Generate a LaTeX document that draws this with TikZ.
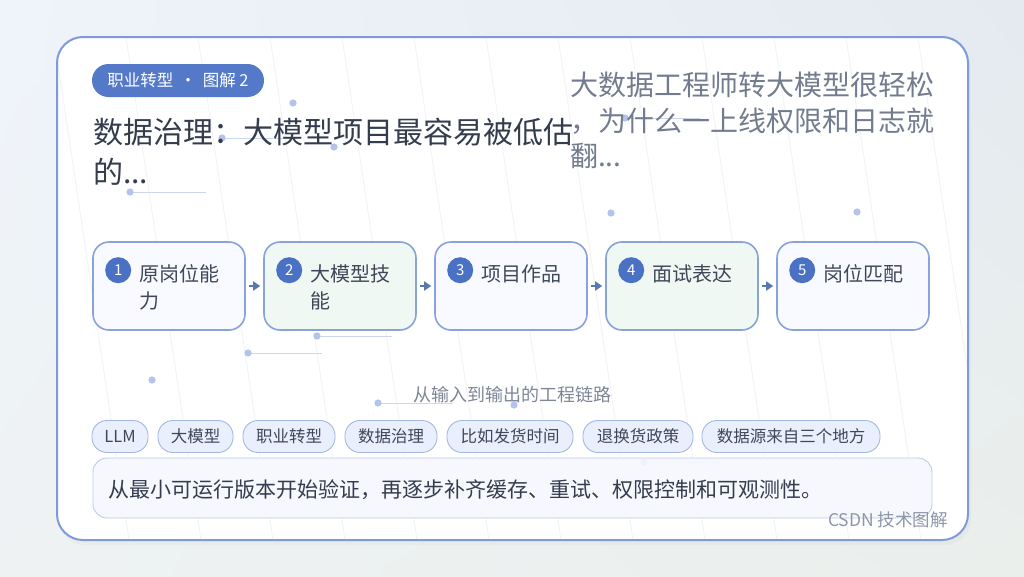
\documentclass[tikz,border=0pt]{standalone}
\usepackage{fontspec}
\setmainfont{Noto Sans CJK SC}
\usetikzlibrary{arrows.meta,calc,shadings}
\definecolor{bgA}{HTML}{EFF4FB}
\definecolor{bgB}{HTML}{E5EAF1}
\definecolor{bgC}{HTML}{EEF2F3}
\definecolor{bgD}{HTML}{EAEFEC}
\definecolor{cardline}{HTML}{7F9AD6}
\definecolor{boxline}{HTML}{88A2DA}
\definecolor{badgeblue}{HTML}{5479C9}
\definecolor{numblue}{HTML}{4A71C3}
\definecolor{boxlight}{HTML}{F9FAFF}
\definecolor{boxgreen}{HTML}{EFF8F3}
\definecolor{tagfill}{HTML}{E9EFFC}
\definecolor{tagline}{HTML}{A5B8E3}
\definecolor{notefill}{HTML}{F6F8FE}
\definecolor{noteline}{HTML}{BCCAEB}
\definecolor{dotcol}{HTML}{B4C3EA}
\definecolor{dotline}{HTML}{CDD7EE}
\definecolor{titlecol}{HTML}{343C4D}
\definecolor{subcol}{HTML}{737C8F}
\definecolor{textcol}{HTML}{3F4758}
\definecolor{capcol}{HTML}{7E8697}
\definecolor{markcol}{HTML}{8E97A9}
\definecolor{arrowcol}{HTML}{5A78B0}
\definecolor{hatch}{HTML}{F0F2F6}
\begin{document}
\begin{tikzpicture}[x=1pt,y=-1pt,
  stepbox/.style={draw=boxline, line width=1.6pt, rounded corners=16pt,
    minimum width=152pt, minimum height=88pt, inner sep=0pt},
  numc/.style={circle, fill=numblue, minimum size=26pt, inner sep=0pt,
    text=white, font=\fontsize{15}{18}\selectfont},
  steptext/.style={anchor=base west, inner sep=0pt, text=textcol,
    font=\fontsize{20}{24}\selectfont},
  tagbox/.style={draw=tagline, line width=0.9pt, fill=tagfill, rounded corners=15pt,
    minimum height=32pt, inner sep=0pt, text=textcol,
    font=\fontsize{16.5}{20}\selectfont},
  flow/.style={draw=arrowcol, line width=2pt, -{Triangle[length=7pt,width=9pt]}},
  dot/.style={fill=dotcol},
  dline/.style={draw=dotline, line width=1pt}
]
\useasboundingbox (0,0) rectangle (1024,576);
% background
\shade[upper left=bgA, upper right=bgB, lower left=bgC, lower right=bgD] (0,0) rectangle (1024,576);
% card
\fill[black, opacity=0.025, rounded corners=26pt] (59,41) rectangle (971,545);
\fill[white, rounded corners=26pt] (57,37) rectangle (968,540);
\begin{scope}
  \clip[rounded corners=26pt] (57,37) rectangle (968,540);
  \foreach \k in {-1,...,13} {
    \draw[hatch, line width=0.8pt] ({-18+72*\k},37) -- ({57+72*\k},540);
  }
\end{scope}
\draw[cardline, line width=2pt, rounded corners=26pt] (57,37) rectangle (968,540);

% badge
\node[fill=badgeblue, rounded corners=16.5pt, minimum width=172pt, minimum height=33pt,
  inner sep=0pt, text=white, font=\fontsize{16.5}{20}\selectfont] (badge) at (178,80.5)
  {职业转型\ \,·\,\ 图解\ 2};

% decorative dots
\draw[dline] (222,138) -- (297,138);
\draw[dline] (130,192) -- (206,192);
\draw[dline] (625,118) -- (700,118);
\draw[dline] (317,336) -- (392,336);
\draw[dline] (248,353) -- (322,353);
\draw[dline] (378,403) -- (453,403);
\draw[dline] (644,462) -- (719,462);
\foreach \p in {(293,103),(222,138),(334,147),(130,192),(625,118),(611,213),(857,212),
  (317,336),(248,353),(152,380),(378,403),(514,405),(644,462)} {
  \fill[dot] \p circle (3.6pt);
}

% title
\node[anchor=base west, inner sep=0pt, text=titlecol, font=\fontsize{30}{36}\selectfont]
  (title1) at (93,143) {数据治理：大模型项目最容易被低估};
\node[anchor=base west, inner sep=0pt, text=titlecol, font=\fontsize{30}{36}\selectfont]
  (title2) at (93,183) {的...};
% subtitle
\node[anchor=base west, inner sep=0pt, text=subcol, font=\fontsize{28}{34}\selectfont]
  (sub1) at (570,95) {大数据工程师转大模型很轻松};
\node[anchor=base west, inner sep=0pt, text=subcol, font=\fontsize{28}{34}\selectfont]
  (sub2) at (570,131) {，为什么一上线权限和日志就};
\node[anchor=base west, inner sep=0pt, text=subcol, font=\fontsize{28}{34}\selectfont]
  (sub3) at (570,166) {翻...};

% steps
\node[stepbox, fill=boxlight] (s1) at (169,286) {};
\node[stepbox, fill=boxgreen] (s2) at (340,286) {};
\node[stepbox, fill=boxlight] (s3) at (511,286) {};
\node[stepbox, fill=boxgreen] (s4) at (682,286) {};
\node[stepbox, fill=boxlight] (s5) at (853,286) {};

\node[numc] (n1) at ($(s1.north west)+(26,29)$) {1};
\node[numc] (n2) at ($(s2.north west)+(26,29)$) {2};
\node[numc] (n3) at ($(s3.north west)+(26,29)$) {3};
\node[numc] (n4) at ($(s4.north west)+(26,29)$) {4};
\node[numc] (n5) at ($(s5.north west)+(26,29)$) {5};

\node[steptext] (t1a) at ($(s1.north west)+(47,40)$) {原岗位能};
\node[steptext] (t1b) at ($(s1.north west)+(47,67)$) {力};
\node[steptext] (t2a) at ($(s2.north west)+(47,40)$) {大模型技};
\node[steptext] (t2b) at ($(s2.north west)+(47,67)$) {能};
\node[steptext] (t3a) at ($(s3.north west)+(47,40)$) {项目作品};
\node[steptext] (t4a) at ($(s4.north west)+(47,40)$) {面试表达};
\node[steptext] (t5a) at ($(s5.north west)+(47,40)$) {岗位匹配};

\draw[flow] ($(s1.east)+(3,0)$) -- ($(s2.west)+(-3,0)$);
\draw[flow] ($(s2.east)+(3,0)$) -- ($(s3.west)+(-3,0)$);
\draw[flow] ($(s3.east)+(3,0)$) -- ($(s4.west)+(-3,0)$);
\draw[flow] ($(s4.east)+(3,0)$) -- ($(s5.west)+(-3,0)$);

% caption
\node[anchor=base, inner sep=0pt, text=capcol, font=\fontsize{18}{21}\selectfont]
  (cap) at (512,401.5) {从输入到输出的工程链路};

% tags
\node[tagbox, minimum width=56pt] (g1) at (120,436.5) {LLM};
\node[tagbox, minimum width=75pt] (g2) at (195.5,436.5) {大模型};
\node[tagbox, minimum width=92pt] (g3) at (289,436.5) {职业转型};
\node[tagbox, minimum width=92pt] (g4) at (391,436.5) {数据治理};
\node[tagbox, minimum width=126pt] (g5) at (510,436.5) {比如发货时间};
\node[tagbox, minimum width=110pt] (g6) at (638,436.5) {退换货政策};
\node[tagbox, minimum width=178pt] (g7) at (791,436.5) {数据源来自三个地方};

% note
\node[draw=noteline, line width=0.9pt, fill=notefill, fill opacity=0.9, draw opacity=1,
  rounded corners=14pt, minimum width=839pt, minimum height=60pt, inner sep=0pt]
  (note) at (512.5,488) {};
\node[anchor=base west, inner sep=0pt, text=titlecol, font=\fontsize{21}{25}\selectfont]
  (notetext) at ($(note.west)+(16,9)$) {从最小可运行版本开始验证，再逐步补齐缓存、重试、权限控制和可观测性。};

% watermark
\node[anchor=base east, inner sep=0pt, text=markcol, font=\fontsize{17.5}{20}\selectfont]
  (mark) at (948,526) {CSDN 技术图解};
\end{tikzpicture}
\end{document}
